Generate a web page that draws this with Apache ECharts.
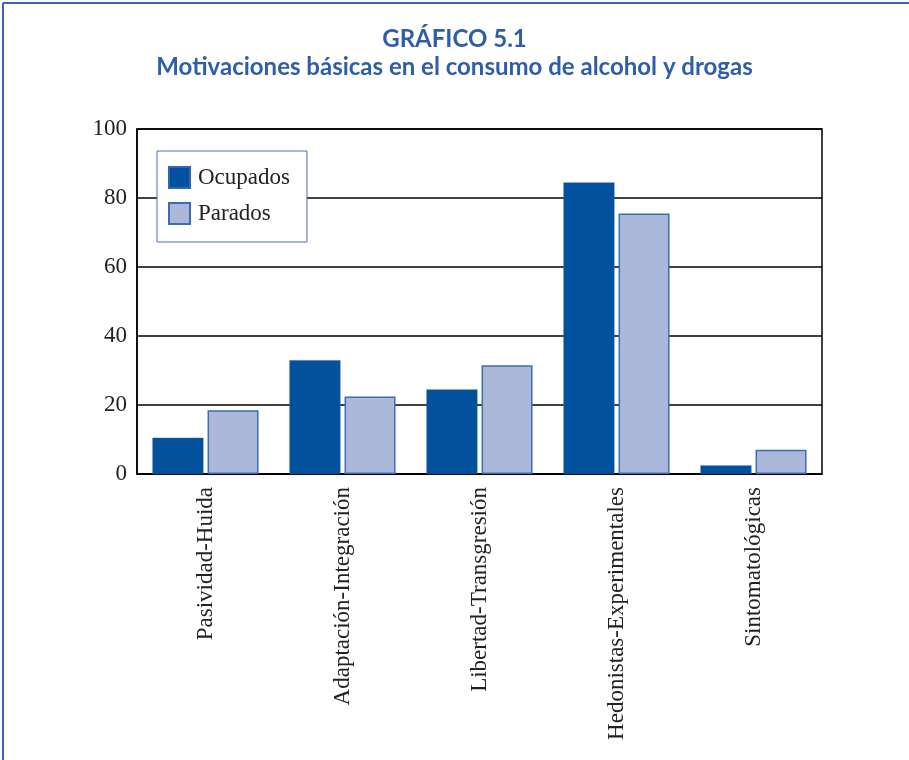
<!DOCTYPE html>
<html>
<head>
<meta charset="utf-8">
<script src="https://cdn.jsdelivr.net/npm/echarts@6/dist/echarts.min.js"></script>
<style>
  html, body { margin: 0; padding: 0; background: #fff; }
  #main { width: 909px; height: 760px; }
</style>
</head>
<body>
<div id="main"></div>
<script>
var categories = ['Pasividad-Huida', 'Adaptación-Integración', 'Libertad-Transgresión', 'Hedonistas-Experimentales', 'Sintomatológicas'];
var ocupados = [10.5, 33, 24.5, 84.5, 2.5];
var parados = [18.5, 22.5, 31.5, 75.5, 7];
var seriesNames = ['Ocupados', 'Parados'];

var blueTitle = '#2f5ea9';
var serif = '"Liberation Serif", "DejaVu Serif", serif';

var chart = echarts.init(document.getElementById('main'));

var option = {
    backgroundColor: '#fff',
    animation: false,
    title: {
        text: 'GRÁFICO 5.1\nMotivaciones básicas en el consumo de alcohol y drogas',
        left: 'center',
        top: 20,
        textStyle: {
            color: blueTitle,
            fontFamily: 'Lato',
            fontWeight: 'bold',
            fontSize: 24,
            lineHeight: 28
        }
    },
    graphic: [
        { type: 'line', shape: { x1: 3, y1: 3, x2: 909, y2: 3 }, style: { stroke: '#3f63b0', lineWidth: 2 } },
        { type: 'line', shape: { x1: 3, y1: 3, x2: 3, y2: 760 }, style: { stroke: '#3f63b0', lineWidth: 2 } }
    ],
    legend: {
        orient: 'vertical',
        left: 157,
        top: 151,
        padding: [15, 17, 17, 11],
        itemGap: 13,
        itemWidth: 21,
        itemHeight: 21,
        icon: 'rect',
        borderColor: '#4a6fb5',
        borderWidth: 1,
        backgroundColor: '#fff',
        data: seriesNames,
        textStyle: { fontFamily: serif, fontSize: 23, color: '#222', padding: [0, 0, 0, 3] }
    },
    grid: {
        left: 137,
        right: 87,
        top: 129,
        bottom: 286,
        show: true,
        borderColor: '#000',
        borderWidth: 1.5
    },
    xAxis: {
        type: 'category',
        data: categories,
        axisLine: { lineStyle: { color: '#000', width: 1.5 } },
        axisTick: { inside: true, length: 8, lineStyle: { color: '#000', width: 1.5 } },
        axisLabel: {
            rotate: 90,
            margin: 13,
            fontFamily: serif,
            fontSize: 23,
            color: '#222'
        }
    },
    yAxis: {
        type: 'value',
        min: 0,
        max: 100,
        interval: 20,
        axisLine: { show: true, lineStyle: { color: '#000', width: 1.5 } },
        axisTick: { show: false },
        splitLine: { lineStyle: { color: '#000', width: 1.5 } },
        axisLabel: { margin: 10, fontFamily: serif, fontSize: 23, color: '#222' }
    },
    series: [
        {
            name: seriesNames[0],
            type: 'bar',
            data: ocupados,
            barWidth: 51,
            barGap: '8%',
            itemStyle: { color: '#01519d', borderColor: '#2f67b0', borderWidth: 0.5 }
        },
        {
            name: seriesNames[1],
            type: 'bar',
            data: parados,
            barWidth: 51,
            itemStyle: { color: '#abb8da', borderColor: '#3a6db5', borderWidth: 1.5 }
        }
    ]
};

chart.setOption(option);
</script>
</body>
</html>
